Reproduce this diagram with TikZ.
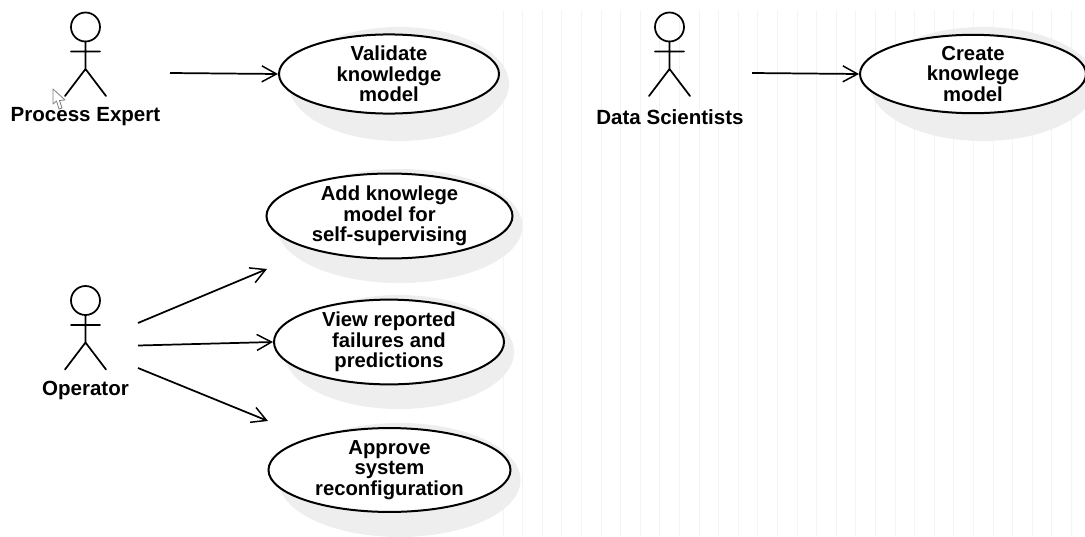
\documentclass[tikz,border=0pt]{standalone}
\usepackage{fontspec}
\setmainfont{Liberation Sans}
\usetikzlibrary{shapes.geometric,arrows.meta}
\definecolor{gridc}{HTML}{F4F4F4}
\definecolor{shadowc}{HTML}{EEEEEE}
\tikzset{
  usecase/.style={ellipse,draw=black,fill=white,line width=1.5pt,inner sep=0pt,minimum height=42.75pt,align=center,font=\bfseries\fontsize{15.2}{15.4}\selectfont},
  shadowshape/.style={fill=shadowc,draw=none},
  actorlabel/.style={font=\bfseries\fontsize{15.4}{18}\selectfont,inner sep=0pt},
  assoc/.style={line width=1.3pt,-{Straight Barb[length=11pt,width=12pt,line width=1.1pt]}},
  actorline/.style={line width=1.3pt,line cap=round},
  gridline/.style={gridc,line width=0.6pt},
  actor/.pic={
    \draw[actorline] (0,0) circle (14.5);
    \draw[actorline] (0,14.5) -- (0,42) (-14.5,24.5) -- (14.5,24.5) (-20.5,69) -- (0,42) -- (20.5,69);
  }
}
\begin{document}
\begin{tikzpicture}[x=0.75pt,y=-0.75pt]
\useasboundingbox (0,0) rectangle (1085,536);
\fill[white] (0,0) rectangle (1085,536);
% faint grid
\foreach \gx in {503,522.6,...,1085}{\draw[gridline] (\gx,10) -- (\gx,536);}
% shadows
\fill[shadowc] (399,84) ellipse [x radius=110,y radius=57];
\fill[shadowc] (983,84) ellipse [x radius=113,y radius=57];
\fill[shadowc] (399.5,226) ellipse [x radius=123,y radius=57];
\fill[shadowc] (399,352) ellipse [x radius=115,y radius=57];
\fill[shadowc] (399.5,480) ellipse [x radius=121,y radius=57];
% use cases
\node[usecase,minimum width=165pt] (validate) at (389,74) {Validate\\knowledge\\model};
\node[usecase,minimum width=169.5pt] (create) at (973,74) {Create\\knowlege\\model};
\node[usecase,minimum width=184.5pt] (add) at (389.5,216) {Add knowlege\\model for\\self-supervising};
\node[usecase,minimum width=172.5pt] (view) at (389,342) {View reported\\failures and\\predictions};
\node[usecase,minimum width=181.5pt] (approve) at (389.5,470) {Approve\\system\\reconfiguration};
% actors
\pic at (85.5,27) {actor};
\pic at (85.5,300.5) {actor};
\pic at (669.5,27) {actor};
\node[actorlabel] (pe) at (85.5,117) {Process Expert};
\node[actorlabel] (op) at (85.5,390.5) {Operator};
\node[actorlabel] (ds) at (670,117) {Data Scientists};
% free ends
\coordinate (peout) at (170,73);
\coordinate (dsout) at (752,73);
\coordinate (opa) at (138,323);
\coordinate (opb) at (138,345.5);
\coordinate (opc) at (138,368);
\coordinate (adde) at (267,269);
\coordinate (appe) at (268,421);
% connectors
\draw[assoc] (peout) -- (validate.west);
\draw[assoc] (dsout) -- (create.west);
\draw[assoc] (opa) -- (adde);
\draw[assoc] (opb) -- (view.west);
\draw[assoc] (opc) -- (appe);
% mouse cursor
\draw[gray,fill=white,line width=0.6pt,line join=round] (53,89) -- (53,104) -- (56.5,101) -- (59,109) -- (62,108) -- (59.5,100.5) -- (65,100) -- cycle;
\end{tikzpicture}
\end{document}
